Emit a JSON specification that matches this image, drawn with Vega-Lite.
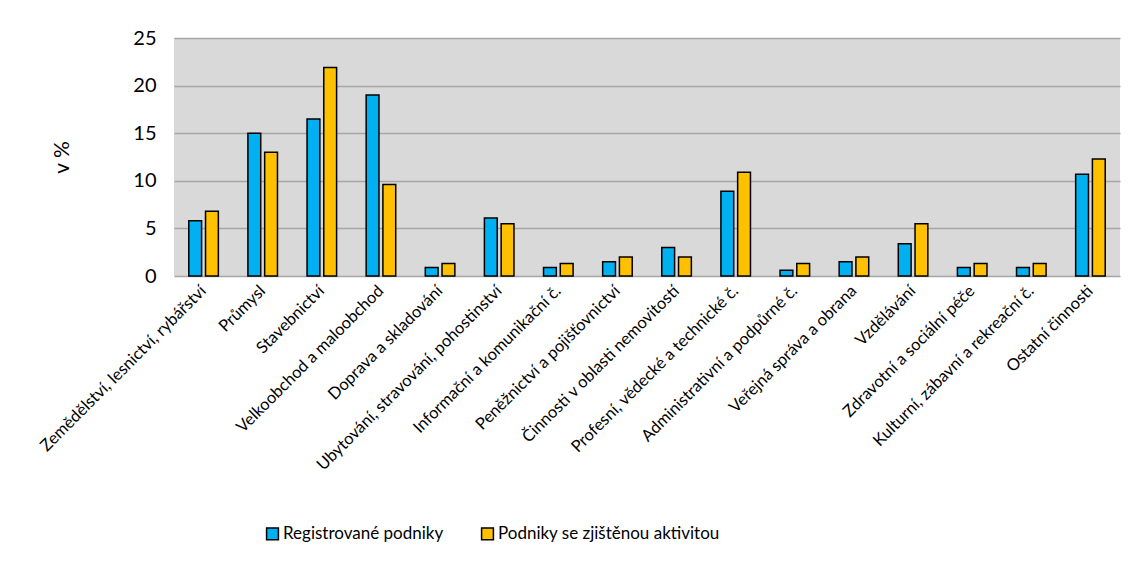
{
  "$schema": "https://vega.github.io/schema/vega-lite/v6.json",
  "autosize": "none",
  "width": 946,
  "height": 238,
  "padding": {"left": 174, "top": 38, "right": 18, "bottom": 291},
  "background": "white",
  "data": {"values": [
    {"k": "Zemědělství, lesnictví, rybářství", "s": "Registrované podniky", "v": 5.8},
    {"k": "Zemědělství, lesnictví, rybářství", "s": "Podniky se zjištěnou aktivitou", "v": 6.8},
    {"k": "Průmysl", "s": "Registrované podniky", "v": 15.0},
    {"k": "Průmysl", "s": "Podniky se zjištěnou aktivitou", "v": 13.0},
    {"k": "Stavebnictví", "s": "Registrované podniky", "v": 16.5},
    {"k": "Stavebnictví", "s": "Podniky se zjištěnou aktivitou", "v": 21.9},
    {"k": "Velkoobchod a maloobchod", "s": "Registrované podniky", "v": 19.0},
    {"k": "Velkoobchod a maloobchod", "s": "Podniky se zjištěnou aktivitou", "v": 9.6},
    {"k": "Doprava a skladování", "s": "Registrované podniky", "v": 0.9},
    {"k": "Doprava a skladování", "s": "Podniky se zjištěnou aktivitou", "v": 1.3},
    {"k": "Ubytování, stravování, pohostinství", "s": "Registrované podniky", "v": 6.1},
    {"k": "Ubytování, stravování, pohostinství", "s": "Podniky se zjištěnou aktivitou", "v": 5.5},
    {"k": "Informační a komunikační č.", "s": "Registrované podniky", "v": 0.9},
    {"k": "Informační a komunikační č.", "s": "Podniky se zjištěnou aktivitou", "v": 1.3},
    {"k": "Peněžnictví a pojišťovnictví", "s": "Registrované podniky", "v": 1.5},
    {"k": "Peněžnictví a pojišťovnictví", "s": "Podniky se zjištěnou aktivitou", "v": 2.0},
    {"k": "Činnosti v oblasti nemovitostí", "s": "Registrované podniky", "v": 3.0},
    {"k": "Činnosti v oblasti nemovitostí", "s": "Podniky se zjištěnou aktivitou", "v": 2.0},
    {"k": "Profesní, vědecké a technické č.", "s": "Registrované podniky", "v": 8.9},
    {"k": "Profesní, vědecké a technické č.", "s": "Podniky se zjištěnou aktivitou", "v": 10.9},
    {"k": "Administrativní a podpůrné č.", "s": "Registrované podniky", "v": 0.6},
    {"k": "Administrativní a podpůrné č.", "s": "Podniky se zjištěnou aktivitou", "v": 1.3},
    {"k": "Veřejná správa a obrana", "s": "Registrované podniky", "v": 1.5},
    {"k": "Veřejná správa a obrana", "s": "Podniky se zjištěnou aktivitou", "v": 2.0},
    {"k": "Vzdělávání", "s": "Registrované podniky", "v": 3.4},
    {"k": "Vzdělávání", "s": "Podniky se zjištěnou aktivitou", "v": 5.5},
    {"k": "Zdravotní a sociální péče", "s": "Registrované podniky", "v": 0.9},
    {"k": "Zdravotní a sociální péče", "s": "Podniky se zjištěnou aktivitou", "v": 1.3},
    {"k": "Kulturní, zábavní a rekreační č.", "s": "Registrované podniky", "v": 0.9},
    {"k": "Kulturní, zábavní a rekreační č.", "s": "Podniky se zjištěnou aktivitou", "v": 1.3},
    {"k": "Ostatní činnosti", "s": "Registrované podniky", "v": 10.7},
    {"k": "Ostatní činnosti", "s": "Podniky se zjištěnou aktivitou", "v": 12.3}
  ]},
  "mark": {"type": "bar", "stroke": "black", "strokeWidth": 1.5},
  "encoding": {
    "x": {
      "field": "k", "type": "nominal", "sort": null,
      "scale": {"paddingInner": 0.5, "paddingOuter": 0.25},
      "axis": {"title": null, "labelAngle": -45, "labelAlign": "right", "labelBaseline": "middle",
               "labelPadding": 12, "ticks": false, "domain": false, "labelFontSize": 16.5,
               "labelFont": "Lato", "labelColor": "black", "labelLimit": 400}
    },
    "xOffset": {"field": "s", "type": "nominal", "sort": ["Registrované podniky", "Podniky se zjištěnou aktivitou"],
                "scale": {"paddingInner": 0.235, "paddingOuter": 0}},
    "y": {
      "field": "v", "type": "quantitative",
      "scale": {"domain": [0, 25], "nice": false},
      "axis": {"title": "v %", "values": [0, 5, 10, 15, 20, 25], "ticks": false, "domain": false,
               "grid": true, "gridColor": "#a6a6a6", "gridWidth": 1.5,
               "labelFont": "Lato", "labelFontSize": 20, "labelColor": "black", "labelPadding": 18,
               "titleFont": "Lato", "titleFontSize": 21, "titleFontWeight": "normal", "titleColor": "black",
               "titleX": -112, "titleY": 119, "titleAngle": -90, "titleAlign": "center", "titleBaseline": "middle"}
    },
    "color": {
      "field": "s", "type": "nominal", "sort": ["Registrované podniky", "Podniky se zjištěnou aktivitou"],
      "scale": {"domain": ["Registrované podniky", "Podniky se zjištěnou aktivitou"], "range": ["#00b0f0", "#ffc000"]},
      "legend": {"title": null, "orient": "none", "direction": "horizontal", "legendX": 90, "legendY": 487,
                 "symbolType": "square", "symbolSize": 140, "symbolStrokeColor": "black", "symbolStrokeWidth": 1.5,
                 "labelFont": "Lato", "labelFontSize": 17, "labelColor": "black", "labelLimit": 400,
                 "columnPadding": 34, "labelOffset": 2}
    }
  },
  "config": {
    "view": {"fill": "#d9d9d9", "stroke": null}
  }
}
